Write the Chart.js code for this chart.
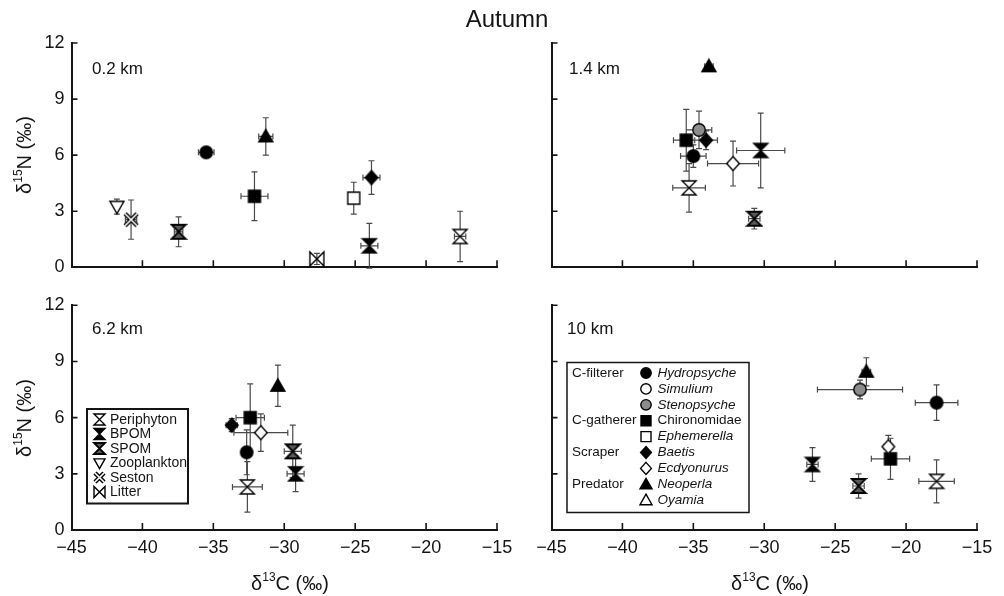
<!DOCTYPE html>
<html lang="en">
<head>
  <meta charset="UTF-8" />
  <title>Autumn – δ13C vs δ15N</title>
  <script src="https://cdn.jsdelivr.net/npm/chart.js"></script>
  <style>
    body { margin: 0; background: #fff; }
    #wrap { position: relative; width: 1004px; height: 596px; }
    #wrap canvas { position: absolute; left: 0; top: 0; }
  </style>
</head>
<body>
  <div id="wrap">
    <canvas id="c02" width="1004" height="596"></canvas>
    <canvas id="c14" width="1004" height="596"></canvas>
    <canvas id="c62" width="1004" height="596"></canvas>
    <canvas id="c10" width="1004" height="596"></canvas>
  </div>

  <script>
    const FONT = '"Liberation Sans", Arial, Helvetica, sans-serif';
    const INK = '#151515';

    // axes shared by all four panels
    const xRange = [-45, -15], xStep = 5;
    const yRange = [0, 12], yStep = 3;

    // [name, d13C, d15N, +/- d13C, +/- d15N]
    const site02 = [
      ['Zooplankton', -41.8, 3.25, 0, 0.4],
      ['Seston', -40.8, 2.55, 0.4, 1.05],
      ['SPOM', -37.45, 1.9, 0.3, 0.8],
      ['Hydropsyche', -35.5, 6.15, 0.55, 0],
      ['Chironomidae', -32.1, 3.8, 0.95, 1.3],
      ['Neoperla', -31.3, 7.0, 0.5, 1.0],
      ['Litter', -27.7, 0.45, 0.35, 0.3],
      ['Ephemerella', -25.1, 3.7, 0, 0.85],
      ['Baetis', -23.85, 4.8, 0.6, 0.9],
      ['BPOM', -24.0, 1.15, 0.6, 1.2],
      ['Periphyton', -17.6, 1.65, 0.4, 1.35]
    ];
    const site14 = [
      ['Neoperla', -33.9, 10.75, 0.3, 0],
      ['Stenopsyche', -34.6, 7.35, 0.9, 1.0],
      ['Chironomidae', -35.5, 6.8, 0.9, 1.65],
      ['Baetis', -34.1, 6.8, 0.8, 0.5],
      ['Hydropsyche', -35.0, 5.95, 0.9, 0.6],
      ['Ecdyonurus', -32.2, 5.55, 1.8, 1.2],
      ['BPOM', -30.25, 6.25, 1.7, 2.0],
      ['Periphyton', -35.3, 4.25, 1.15, 1.3],
      ['SPOM', -30.7, 2.6, 0.4, 0.55]
    ];
    const site62 = [
      ['Neoperla', -30.45, 7.7, 0, 1.1],
      ['Chironomidae', -32.4, 6.0, 1.0, 1.8],
      ['Baetis', -33.7, 5.6, 0.4, 0.35],
      ['Ecdyonurus', -31.65, 5.2, 1.9, 1.0],
      ['Hydropsyche', -32.65, 4.15, 0, 1.2],
      ['Periphyton', -32.6, 2.3, 1.05, 1.35],
      ['SPOM', -29.4, 4.2, 0.6, 1.4],
      ['BPOM', -29.2, 3.0, 0.6, 0.95]
    ];
    const site10 = [
      ['Neoperla', -22.8, 8.45, 0.3, 0.75],
      ['Stenopsyche', -23.25, 7.5, 3.0, 0.5],
      ['Hydropsyche', -17.85, 6.8, 1.5, 0.95],
      ['Ecdyonurus', -21.25, 4.45, 0.3, 0.6],
      ['Chironomidae', -21.1, 3.8, 1.35, 1.1],
      ['BPOM', -26.6, 3.5, 0.4, 0.9],
      ['SPOM', -23.35, 2.35, 0.4, 0.65],
      ['Periphyton', -17.85, 2.6, 1.25, 1.15]
    ];

    const sourceNames = ['Periphyton', 'BPOM', 'SPOM', 'Zooplankton', 'Seston', 'Litter'];
    const guildRows = [
      ['C-filterer', 'Hydropsyche'], ['', 'Simulium'], ['', 'Stenopsyche'],
      ['C-gatherer', 'Chironomidae'], ['', 'Ephemerella'],
      ['Scraper', 'Baetis'], ['', 'Ecdyonurus'],
      ['Predator', 'Neoperla'], ['', 'Oyamia']
    ];

    const markerOf = {
      Periphyton: 'hourOpen', BPOM: 'hourFill', SPOM: 'hourGray',
      Zooplankton: 'triDown', Seston: 'seston', Litter: 'bowtie',
      Hydropsyche: 'dot', Simulium: 'ring', Stenopsyche: 'grayDot',
      Chironomidae: 'square', Ephemerella: 'openSquare',
      Baetis: 'diamond', Ecdyonurus: 'openDiamond',
      Neoperla: 'tri', Oyamia: 'openTri'
    };

    function drawMarker(ctx, kind, x, y, s) {
      const h = s / 2;
      ctx.save();
      ctx.lineWidth = 1.4;
      ctx.strokeStyle = '#000';
      ctx.lineJoin = 'miter';
      ctx.miterLimit = 3;
      ctx.beginPath();
      if (kind === 'dot' || kind === 'ring' || kind === 'grayDot') {
        ctx.arc(x, y, h - 0.8, 0, Math.PI * 2);
      } else if (kind === 'square' || kind === 'openSquare') {
        ctx.rect(x - h + 1, y - h + 1, s - 2, s - 2);
      } else if (kind === 'diamond' || kind === 'openDiamond') {
        ctx.moveTo(x, y - h); ctx.lineTo(x + h * 0.9, y);
        ctx.lineTo(x, y + h); ctx.lineTo(x - h * 0.9, y); ctx.closePath();
      } else if (kind === 'tri' || kind === 'openTri') {
        ctx.moveTo(x, y - h); ctx.lineTo(x + h, y + h * 0.75);
        ctx.lineTo(x - h, y + h * 0.75); ctx.closePath();
      } else if (kind === 'triDown') {
        ctx.moveTo(x - h, y - h * 0.75); ctx.lineTo(x + h, y - h * 0.75);
        ctx.lineTo(x, y + h); ctx.closePath();
      } else if (kind.startsWith('hour')) {
        ctx.moveTo(x - h, y - h); ctx.lineTo(x + h, y - h);
        ctx.lineTo(x - h, y + h); ctx.lineTo(x + h, y + h); ctx.closePath();
      } else if (kind === 'bowtie') {
        ctx.moveTo(x - h, y - h); ctx.lineTo(x + h, y + h);
        ctx.lineTo(x + h, y - h); ctx.lineTo(x - h, y + h); ctx.closePath();
      }
      if (kind === 'seston') {
        const k = h - 1;
        ctx.moveTo(x - k, y - k); ctx.lineTo(x + k, y + k);
        ctx.moveTo(x + k, y - k); ctx.lineTo(x - k, y + k);
        ctx.lineWidth = 4.4; ctx.stroke();
        ctx.lineWidth = 1.6; ctx.strokeStyle = '#fff'; ctx.stroke();
      } else {
        const filled = ['dot', 'square', 'diamond', 'tri', 'hourFill'];
        ctx.fillStyle = filled.includes(kind) ? '#000'
          : (kind === 'grayDot' ? '#8c8c8c' : (kind === 'hourGray' ? '#5a5a5a' : '#fff'));
        ctx.fill();
        if (kind === 'hourGray') ctx.lineWidth = 1.8;
        ctx.stroke();
      }
      ctx.restore();
    }

    // marker images for the chart points
    const markerImg = {};
    Object.keys(markerOf).forEach(name => {
      const s = 14, c = document.createElement('canvas');
      c.width = s + 4; c.height = s + 4;
      drawMarker(c.getContext('2d'), markerOf[name], (s + 4) / 2, (s + 4) / 2, s);
      markerImg[name] = c;
    });

    const errorBars = {
      id: 'errorBars',
      beforeDatasetsDraw(chart) {
        const { ctx, scales: { x, y } } = chart;
        ctx.save();
        ctx.strokeStyle = '#4a4a4a';
        ctx.lineWidth = 1.2;
        ctx.beginPath();
        chart.data.datasets.forEach(ds => ds.data.forEach(d => {
          const px = x.getPixelForValue(d.x), py = y.getPixelForValue(d.y);
          if (d.xe) {
            const x0 = x.getPixelForValue(d.x - d.xe), x1 = x.getPixelForValue(d.x + d.xe);
            ctx.moveTo(x0, py); ctx.lineTo(x1, py);
            ctx.moveTo(x0, py - 3); ctx.lineTo(x0, py + 3);
            ctx.moveTo(x1, py - 3); ctx.lineTo(x1, py + 3);
          }
          if (d.ye) {
            const y0 = y.getPixelForValue(d.y - d.ye), y1 = y.getPixelForValue(d.y + d.ye);
            ctx.moveTo(px, y0); ctx.lineTo(px, y1);
            ctx.moveTo(px - 3, y0); ctx.lineTo(px + 3, y0);
            ctx.moveTo(px - 3, y1); ctx.lineTo(px + 3, y1);
          }
        }));
        ctx.stroke();
        ctx.restore();
      }
    };

    // tick marks point into the plot
    const innerTicks = {
      id: 'innerTicks',
      afterDraw(chart) {
        const { ctx, chartArea: a, scales: { x, y } } = chart;
        ctx.save();
        ctx.strokeStyle = INK;
        ctx.lineWidth = 1.6;
        ctx.beginPath();
        x.ticks.forEach(t => {
          if (t.value === x.min) return;
          const px = x.getPixelForValue(t.value);
          ctx.moveTo(px, a.bottom); ctx.lineTo(px, a.bottom - 7);
        });
        y.ticks.forEach(t => {
          if (t.value === y.min) return;
          const py = y.getPixelForValue(t.value);
          ctx.moveTo(a.left, py); ctx.lineTo(a.left + 6, py);
        });
        ctx.stroke();
        ctx.restore();
      }
    };

    // delta-notation label with a small raised isotope number
    function isoLabel(ctx, sym, mass, rest, cx, cy, rot) {
      const big = '20px ' + FONT, small = '12px ' + FONT;
      ctx.save();
      ctx.translate(cx, cy);
      ctx.rotate(rot);
      ctx.fillStyle = INK;
      ctx.textBaseline = 'middle';
      ctx.font = big; const w1 = ctx.measureText(sym).width, w3 = ctx.measureText(rest).width;
      ctx.font = small; const w2 = ctx.measureText(mass).width;
      let x = -(w1 + w2 + w3) / 2;
      ctx.font = big; ctx.fillText(sym, x, 0); x += w1;
      ctx.font = small; ctx.fillText(mass, x, -6); x += w2;
      ctx.font = big; ctx.fillText(rest, x, 0);
      ctx.restore();
    }

    const decor = {
      id: 'decor',
      afterDraw(chart, args, o) {
        const ctx = chart.ctx;
        ctx.save();
        ctx.fillStyle = INK;
        ctx.textBaseline = 'middle';
        ctx.font = '17px ' + FONT;
        ctx.fillText(o.tag[0], o.tag[1], o.tag[2]);
        if (o.title) {
          ctx.font = '24px ' + FONT;
          ctx.textAlign = 'center';
          ctx.fillText('Autumn', 507, 20);
          ctx.textAlign = 'left';
        }
        if (o.yTitle) isoLabel(ctx, 'δ', '15', 'N (‰)', 25, o.yTitle, -Math.PI / 2);
        if (o.xTitle) isoLabel(ctx, 'δ', '13', 'C (‰)', o.xTitle, 584, 0);

        if (o.legend === 'sources') {
          ctx.lineWidth = 2; ctx.strokeStyle = INK;
          ctx.strokeRect(87, 409, 101, 94.5);
          ctx.font = '14px ' + FONT;
          sourceNames.forEach((n, i) => {
            const yy = 419.5 + i * 14.5;
            drawMarker(ctx, markerOf[n], 99.5, yy, 11);
            ctx.fillStyle = INK;
            ctx.fillText(n, 110, yy + 0.5);
          });
        }
        if (o.legend === 'guilds') {
          ctx.lineWidth = 1.5; ctx.strokeStyle = INK;
          ctx.strokeRect(567, 362.5, 182, 150);
          guildRows.forEach((r, i) => {
            const yy = 373 + i * 15.9;
            ctx.fillStyle = INK;
            if (r[0]) { ctx.font = '13.5px ' + FONT; ctx.fillText(r[0], 572, yy); }
            drawMarker(ctx, markerOf[r[1]], 646, yy, 12);
            ctx.fillStyle = INK;
            ctx.font = (r[1] === 'Chironomidae' ? '' : 'italic ') + '13.5px ' + FONT;
            ctx.fillText(r[1], 657.5, yy);
          });
        }
        ctx.restore();
      }
    };

    function makePanel(id, rows, area, cfg) {
      const xh = cfg.xLabels ? 596 - area.b : 0;
      const yw = cfg.yLabels ? area.l : 0;
      return new Chart(document.getElementById(id), {
        type: 'scatter',
        data: {
          datasets: rows.map(r => ({
            label: r[0],
            data: [{ x: r[1], y: r[2], xe: r[3], ye: r[4] }],
            pointStyle: markerImg[r[0]],
            pointRadius: 7,
            clip: false
          }))
        },
        options: {
          responsive: false,
          animation: false,
          events: [],
          layout: {
            padding: {
              left: cfg.yLabels ? 0 : area.l,
              top: area.t,
              right: 1004 - area.r,
              bottom: cfg.xLabels ? 0 : 596 - area.b
            }
          },
          scales: {
            x: {
              type: 'linear', min: xRange[0], max: xRange[1],
              ticks: {
                display: !!cfg.xLabels, stepSize: xStep, padding: 7, color: INK,
                font: { size: 18, family: FONT },
                callback: v => (v < 0 ? '\u2212' + Math.abs(v) : String(v))
              },
              grid: { drawOnChartArea: false, drawTicks: false },
              border: { color: INK, width: 2 },
              afterFit: s => { s.height = xh; }
            },
            y: {
              type: 'linear', min: yRange[0], max: yRange[1],
              ticks: {
                display: !!cfg.yLabels, stepSize: yStep, padding: 7, color: INK,
                font: { size: 18, family: FONT }
              },
              grid: { drawOnChartArea: false, drawTicks: false },
              border: { color: INK, width: 2 },
              afterFit: s => { s.width = yw; }
            }
          },
          plugins: {
            legend: { display: false },
            tooltip: { enabled: false },
            decor: cfg.decor
          }
        },
        plugins: [errorBars, innerTicks, decor]
      });
    }

    makePanel('c02', site02, { l: 71.5, r: 497, t: 43, b: 267.3 },
      { yLabels: true, decor: { tag: ['0.2 km', 92, 69], title: true, yTitle: 155 } });
    makePanel('c14', site14, { l: 551.5, r: 977, t: 43, b: 267.3 },
      { decor: { tag: ['1.4 km', 569, 69] } });
    makePanel('c62', site62, { l: 71.5, r: 497, t: 305.3, b: 530 },
      { xLabels: true, yLabels: true, decor: { tag: ['6.2 km', 92, 329], yTitle: 418, xTitle: 290, legend: 'sources' } });
    makePanel('c10', site10, { l: 551.5, r: 977, t: 305.3, b: 530 },
      { xLabels: true, decor: { tag: ['10 km', 567, 329], xTitle: 770, legend: 'guilds' } });
  </script>
</body>
</html>
